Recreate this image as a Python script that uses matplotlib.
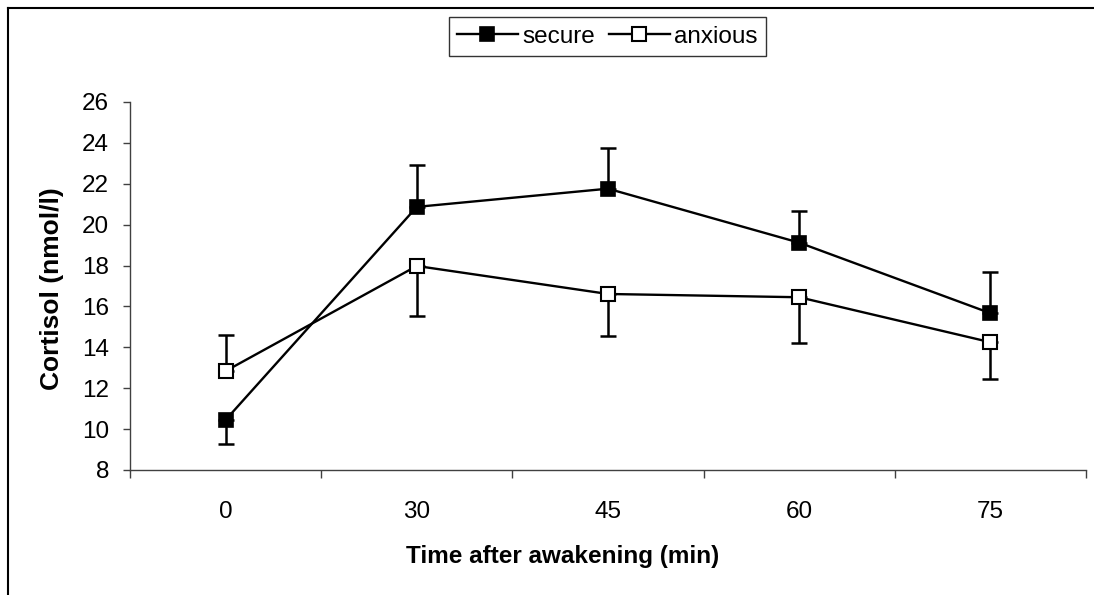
import numpy as np
import matplotlib.pyplot as plt
from matplotlib.lines import Line2D

plt.rcParams['font.family'] = ['Liberation Sans', 'DejaVu Sans']

time_labels = ['0', '30', '45', '60', '75']
secure_mean = [10.45, 20.87, 21.76, 19.12, 15.67]
secure_sem = [1.19, 2.05, 1.98, 1.57, 2.03]
anxious_mean = [12.84, 17.98, 16.61, 16.45, 14.25]
anxious_sem = [1.76, 2.43, 2.04, 2.25, 1.78]

W, H = 1094, 595
fig = plt.figure(figsize=(W / 100, H / 100), dpi=100)
ax = fig.add_axes([130 / W, 1 - 470 / H, 956 / W, 368 / H])

x = np.arange(len(time_labels))
sm = np.array(secure_mean)
am = np.array(anxious_mean)

# error bars point away from the other group
s_up = sm >= am
secure_err = [np.where(s_up, 0, secure_sem), np.where(s_up, secure_sem, 0)]
anxious_err = [np.where(~s_up, 0, anxious_sem), np.where(~s_up, anxious_sem, 0)]

ax.errorbar(x, sm, yerr=secure_err, fmt='none', ecolor='black',
            elinewidth=1.8, capsize=5.5, capthick=1.8, zorder=2)
ax.errorbar(x, am, yerr=anxious_err, fmt='none', ecolor='black',
            elinewidth=1.8, capsize=5.5, capthick=1.8, zorder=2)
ax.plot(x, sm, color='black', lw=1.7, marker='s', ms=10,
        mfc='black', mec='black', mew=1.2, label='secure', zorder=3)
ax.plot(x, am, color='black', lw=1.7, marker='s', ms=10,
        mfc='white', mec='black', mew=1.5, label='anxious', zorder=3)

ax.set_xlim(-0.5, len(time_labels) - 0.5)
ax.set_ylim(8, 26)
ax.set_yticks(np.arange(8, 27, 2))
ax.set_xticks(np.arange(-0.5, len(time_labels)))
ax.set_xticklabels([])
ax.set_xticks(x, minor=True)
ax.set_xticklabels(time_labels, minor=True)
ax.tick_params(axis='x', which='major', direction='out', length=5.8, width=1, color='#404040')
ax.tick_params(axis='x', which='minor', length=0, pad=22, labelsize=17.5)
ax.tick_params(axis='y', direction='out', length=5, width=1, color='#404040', pad=10, labelsize=17.5)

for side in ['top', 'right']:
    ax.spines[side].set_visible(False)
for side in ['left', 'bottom']:
    ax.spines[side].set_color('#404040')
    ax.spines[side].set_linewidth(1)

fig.text(52 / W, 1 - 289 / H, 'Cortisol (nmol/l)', rotation=90, ha='center', va='center',
         fontsize=19, fontweight='bold')
fig.text(563 / W, 1 - 556 / H, 'Time after awakening (min)', ha='center', va='center',
         fontsize=17.5, fontweight='bold')

leg = fig.legend(loc='center', bbox_to_anchor=(607.5 / W, 1 - 36.5 / H), ncol=2,
                 fontsize=17.5, frameon=True, fancybox=False, edgecolor='black',
                 handlelength=2.5, handletextpad=0.2, columnspacing=0.55,
                 borderpad=0.35, borderaxespad=0)
leg.get_frame().set_linewidth(1)

# outer chart frame (top and left edges)
fig.add_artist(Line2D([8 / W, 1], [1 - 8 / H, 1 - 8 / H], color='black', lw=1.5))
fig.add_artist(Line2D([8 / W, 8 / W], [0, 1 - 8 / H], color='black', lw=1.5))

fig.savefig('out.png', dpi=100)
